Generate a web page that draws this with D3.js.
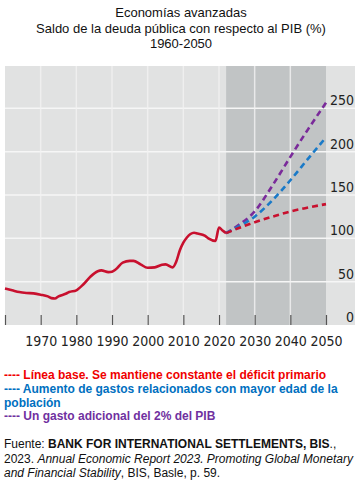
<!DOCTYPE html>
<html lang="es">
  <head>
    <meta charset="utf-8">
    <title>Deuda pública economías avanzadas</title>
    <script src="https://d3js.org/d3.v7.min.js"></script>
    <style>
      body { margin: 0; background: #fff; }
      text { font-family: "Liberation Sans", Arial, sans-serif; }
      .tick text, .ylab { font-family: "Liberation Sans Narrow", "DejaVu Sans Condensed", "Arial Narrow", sans-serif; font-stretch: condensed; font-size: 14px; fill: #222; }
    </style>
  </head>
  <body>
    <div id="chart"></div>
    <script>

      // historical debt ratio (solid line)
      var histYears = [1960, 1962, 1964, 1966, 1968, 1970, 1972, 1973, 1974, 1975, 1977, 1978, 1980, 1982, 1984, 1986, 1987, 1989, 1990, 1991, 1993, 1995, 1996, 1998, 2000, 2002, 2004, 2005, 2007, 2008, 2009, 2010, 2011, 2012, 2013, 2014, 2016, 2017, 2019, 2020, 2021, 2022];
      var histValues = [42, 40, 38, 37, 36.5, 35, 33, 31, 30.5, 33, 36, 38, 40, 47, 56, 62, 63, 61, 61.5, 64, 72, 74, 74, 70, 66, 66.5, 69.5, 70, 66.5, 73, 86, 95, 101, 105, 106.5, 105.5, 103, 100, 97, 112.5, 109, 106];

      // projections (dashed lines)
      var projYears = [2022, 2025, 2030, 2035, 2040, 2045, 2050];
      var baseline = [106, 111, 118.5, 125, 131, 135.5, 139.5];
      var ageing = [106, 112.5, 125, 144, 167, 192, 216.5];
      var extraSpending = [106, 114, 131, 161, 194, 226, 256.5];

      var xTicks = [1970, 1980, 1990, 2000, 2010, 2020, 2030, 2040, 2050];
      var yTicks = [0, 50, 100, 150, 200, 250];

      var titleLines = ["Economías avanzadas", "Saldo de la deuda pública con respecto al PIB (%)", "1960-2050"];

      var width = 361;
      var height = 481;

      var svg = d3.select("#chart")
        .append("svg")
        .attr("width", width)
        .attr("height", height);

      var xScale = d3.scaleLinear()
        .domain([1960, 2050])
        .range([5, 326]);

      var yScale = d3.scaleLinear()
        .domain([0, 300])
        .range([325, 65]);

      // title
      svg.selectAll(".title")
        .data(titleLines)
        .enter()
        .append("text")
        .attr("class", "title")
        .attr("x", 181)
        .attr("y", function(d, i){return 17 + i*15.5;})
        .attr("text-anchor", "middle")
        .style("font-size", "13px")
        .style("fill", "#111")
        .text(function(d){return d;});

      // backgrounds
      svg.append("rect")
        .attr("x", 5).attr("y", 66)
        .attr("width", 350).attr("height", 259)
        .attr("fill", "#e1e2e2");

      svg.append("rect")
        .attr("x", xScale(2022)).attr("y", 66)
        .attr("width", xScale(2050) - xScale(2022)).attr("height", 259)
        .attr("fill", "#c1c4c5");

      // grid
      svg.selectAll(".hgrid")
        .data(yTicks.filter(function(d){return d > 0;}))
        .enter()
        .append("line")
        .attr("x1", 5).attr("x2", 355)
        .attr("y1", function(d){return yScale(d);})
        .attr("y2", function(d){return yScale(d);})
        .attr("stroke", "#f6f6f6")
        .attr("stroke-width", 1.5);

      svg.selectAll(".vgrid")
        .data(xTicks.filter(function(d){return d < 2050;}))
        .enter()
        .append("line")
        .attr("x1", function(d){return xScale(d);})
        .attr("x2", function(d){return xScale(d);})
        .attr("y1", 66).attr("y2", 325)
        .attr("stroke", "#f3f3f3")
        .attr("stroke-opacity", 0.8)
        .attr("stroke-width", 1.5);

      // x axis: short ticks pointing up, labels below
      var xAxis = svg.append("g")
        .attr("transform", "translate(0,325)")
        .call(d3.axisBottom(xScale)
          .tickValues([1960].concat(xTicks))
          .tickSize(-10)
          .tickPadding(15)
          .tickFormat(function(d){return d == 1960 ? "" : d;}));
      xAxis.select(".domain").remove();
      xAxis.selectAll(".tick line").attr("stroke", "#555").attr("stroke-width", 1.2);
      xAxis.selectAll(".tick text").attr("dy", "0.71em").attr("y", 11);

      // y labels on the right, sitting above the gridlines
      svg.selectAll(".ylab")
        .data(yTicks)
        .enter()
        .append("text")
        .attr("class", "ylab")
        .attr("x", 354)
        .attr("y", function(d){return yScale(d) - 3;})
        .attr("text-anchor", "end")
        .text(function(d){return d;});

      // lines
      var line = d3.line()
        .x(function(d){return xScale(d[0]);})
        .y(function(d){return yScale(d[1]);})
        .curve(d3.curveMonotoneX);

      svg.append("path")
        .datum(d3.zip(histYears, histValues))
        .attr("d", line)
        .attr("fill", "none")
        .attr("stroke", "#c8102e")
        .attr("stroke-width", 2.6)
        .attr("stroke-linejoin", "round");

      var projections = [
        {name: "extra", values: extraSpending, color: "#7a2a9a"},
        {name: "ageing", values: ageing, color: "#1a7ac8"},
        {name: "baseline", values: baseline, color: "#c8102e"}
      ];

      svg.selectAll(".proj")
        .data(projections)
        .enter()
        .append("path")
        .attr("class", "proj")
        .attr("d", function(d){return line(d3.zip(projYears, d.values));})
        .attr("fill", "none")
        .attr("stroke", function(d){return d.color;})
        .attr("stroke-width", 2.6)
        .attr("stroke-dasharray", "6,4");

      // legend
      var legend = [
        {t: "---- Línea base. Se mantiene constante el déficit primario", c: "#f00000", y: 379},
        {t: "---- Aumento de gastos relacionados con mayor edad de la", c: "#0070c0", y: 393},
        {t: "población", c: "#0070c0", y: 406.5},
        {t: "---- Un gasto adicional del 2% del PIB", c: "#7030a0", y: 420}
      ];

      svg.selectAll(".leg")
        .data(legend)
        .enter()
        .append("text")
        .attr("class", "leg")
        .attr("x", 4)
        .attr("y", function(d){return d.y;})
        .style("font-size", "12px")
        .style("font-weight", "bold")
        .style("fill", function(d){return d.c;})
        .text(function(d){return d.t;});

      // source
      var src1 = svg.append("text").attr("x", 4).attr("y", 448).style("font-size", "12px").style("fill", "#111");
      src1.append("tspan").text("Fuente: ");
      src1.append("tspan").style("font-weight", "bold").text("BANK FOR INTERNATIONAL SETTLEMENTS, BIS");
      src1.append("tspan").text("., ");

      var src2 = svg.append("text").attr("x", 4).attr("y", 462.5).style("font-size", "12px").style("fill", "#111");
      src2.append("tspan").text("2023. ");
      src2.append("tspan").style("font-style", "italic").text("Annual Economic Report 2023. Promoting Global Monetary");

      var src3 = svg.append("text").attr("x", 4).attr("y", 477).style("font-size", "12px").style("fill", "#111");
      src3.append("tspan").style("font-style", "italic").text("and Financial Stability");
      src3.append("tspan").text(", BIS, Basle, p. 59.");

    </script>
  </body>
</html>
